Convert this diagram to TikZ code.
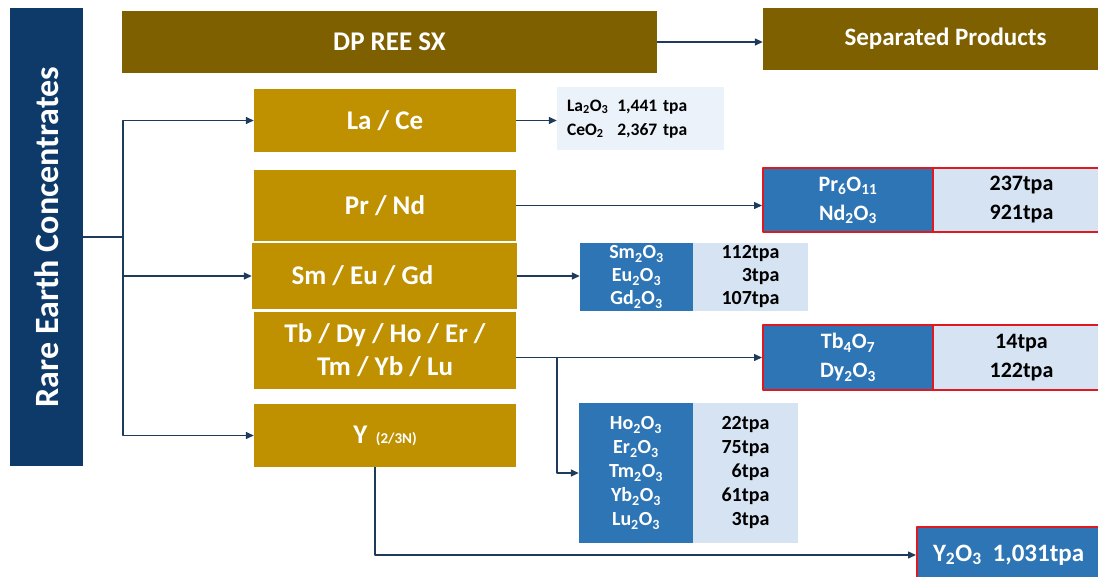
\documentclass[tikz,border=0pt]{standalone}
\usepackage{fontspec}
\setmainfont{Carlito}
\usepackage{graphicx}
\usetikzlibrary{arrows.meta}

\definecolor{barblue}{RGB}{14,58,106}
\definecolor{olive}{RGB}{127,96,0}
\definecolor{gold}{RGB}{191,144,0}
\definecolor{prodblue}{RGB}{46,117,182}
\definecolor{paleblue}{RGB}{214,227,242}
\definecolor{notebg}{RGB}{236,242,249}
\definecolor{redline}{RGB}{224,24,32}
\definecolor{flowline}{RGB}{31,59,92}

\tikzset{
  barbox/.style={fill=barblue, text=white, inner sep=0pt,
    font=\fontsize{34}{40}\selectfont\bfseries},
  olivebox/.style={fill=olive, text=white, inner sep=0pt,
    font=\fontsize{25}{30}\selectfont\bfseries},
  goldbox/.style={fill=gold, text=white, inner sep=0pt, align=center,
    minimum width=262pt, font=\fontsize{27}{33}\selectfont\bfseries},
  oxbox/.style={fill=prodblue, text=white, inner sep=0pt, align=center},
  valbox/.style={fill=paleblue, text=black, inner sep=0pt},
  keybox/.style={draw=redline, line width=2pt},
  link/.style={draw=flowline, line width=1.4pt},
  flow/.style={link, -{Triangle[length=8pt,width=7pt]}}
}

\begin{document}
\begin{tikzpicture}[x=1pt, y=-1pt, line join=round]
  \path[use as bounding box, clip] (0,0) rectangle (1098,576);
  % la barra de la izquierda
  \node[barbox, minimum width=73pt, minimum height=458pt] (bar) at (46.5,237)
    {\rotatebox{90}{Rare Earth Concentrates}};
  % cabeceras
  \node[olivebox, minimum width=535pt, minimum height=62pt,
    font=\fontsize{27}{32}\selectfont\bfseries] (dp) at (389.5,42) {DP REE SX};
  \node[olivebox, minimum width=365pt, minimum height=62pt] (sep) at (945.5,39) {Separated Products};
  % las cajas de los grupos
  \node[goldbox, minimum height=63pt] (lace) at (385,120.5) {La / Ce};
  \node[goldbox, minimum height=71pt] (prnd) at (385,205.5) {Pr / Nd};
  \node[goldbox, minimum width=265pt, minimum height=66pt] (smeugd) at (384.5,276)
    {Sm / Eu / Gd\hspace{44pt}};
  \node[goldbox, minimum height=77pt] (tbbox) at (385,350.5)
    {Tb / Dy / Ho / Er /\\Tm / Yb / Lu};
  \node[goldbox, minimum height=63pt] (yttr) at (385,435.5)
    {Y {\fontsize{15}{18}\selectfont\,(2/3N)}};
  % La / Ce
  \node[fill=notebg, inner xsep=10pt, inner ysep=0pt, text width=147pt,
    minimum height=63pt, align=left, font=\fontsize{17.5}{24}\selectfont\bfseries]
    (lcox) at (640.5,118.5)
    {\begin{tabular}{@{}l@{\hspace{9pt}}l@{}}
       La\textsubscript{2}O\textsubscript{3} & 1,441 tpa\\
       CeO\textsubscript{2} & 2,367 tpa
     \end{tabular}};
  % Pr / Nd
  \node[oxbox, keybox, minimum width=170pt, minimum height=64pt,
    font=\fontsize{22}{29}\selectfont\bfseries] (prox) at (848,200)
    {Pr\textsubscript{6}O\textsubscript{11}\\Nd\textsubscript{2}O\textsubscript{3}};
  \node[valbox, keybox, align=center, minimum width=177pt, minimum height=64pt,
    font=\fontsize{22}{29}\selectfont\bfseries] (prval) at (1021.5,200)
    {237tpa\\921tpa};
  % Sm / Eu / Gd
  \node[oxbox, minimum width=113pt, minimum height=68pt,
    font=\fontsize{20}{23}\selectfont\bfseries] (smox) at (636.5,277)
    {Sm\textsubscript{2}O\textsubscript{3}\\Eu\textsubscript{2}O\textsubscript{3}\\Gd\textsubscript{2}O\textsubscript{3}};
  \node[valbox, align=right, minimum width=115pt, minimum height=68pt,
    font=\fontsize{20}{23}\selectfont\bfseries] (smval) at (750.5,277)
    {112tpa\\3tpa\\107tpa};
  % Tb / Dy
  \node[oxbox, keybox, minimum width=170pt, minimum height=65pt,
    font=\fontsize{22}{29}\selectfont\bfseries] (tbox) at (848,357.5)
    {Tb\textsubscript{4}O\textsubscript{7}\\Dy\textsubscript{2}O\textsubscript{3}};
  \node[valbox, keybox, align=center, minimum width=177pt, minimum height=65pt,
    font=\fontsize{22}{29}\selectfont\bfseries] (tbval) at (1021.5,357.5)
    {14tpa\\122tpa};
  % Ho / Er / Tm / Yb / Lu
  \node[oxbox, minimum width=114pt, minimum height=140pt,
    font=\fontsize{20}{24}\selectfont\bfseries] (hoox) at (636,473)
    {Ho\textsubscript{2}O\textsubscript{3}\\Er\textsubscript{2}O\textsubscript{3}\\Tm\textsubscript{2}O\textsubscript{3}\\Yb\textsubscript{2}O\textsubscript{3}\\Lu\textsubscript{2}O\textsubscript{3}};
  \node[valbox, align=right, minimum width=105pt, minimum height=140pt,
    font=\fontsize{20}{24}\selectfont\bfseries] (hoval) at (745.5,473)
    {22tpa\\75tpa\\6tpa\\61tpa\\3tpa};
  % Y
  \node[oxbox, keybox, inner xsep=16pt, text width=180pt, align=left,
    minimum height=56pt, font=\fontsize{25}{28}\selectfont\bfseries] (yox) at (1023,555)
    {Y\textsubscript{2}O\textsubscript{3}\hspace{11pt}1,031tpa};
  % las flechas
  \coordinate (split) at (123,237);
  \coordinate (tbfork) at (557,357.5);
  \coordinate (ydrop) at (375,467);
  \draw[link] (bar.east) -- (split);
  \draw[flow] (split) |- (lace);
  \draw[flow] (split) |- (smeugd);
  \draw[flow] (split) |- (yttr);
  \draw[flow] (dp.east) -- (dp.east -| sep.west);
  \draw[flow] (lace.east) -- (lace.east -| lcox.west);
  \draw[flow] (prnd.east) -- (prnd.east -| prox.west);
  \draw[flow] (smeugd.east) -- (smeugd.east -| smox.west);
  \draw[flow] (tbbox.east |- tbox) -- (tbox);
  \draw[flow] (tbfork) |- (hoox);
  \draw[flow] (ydrop) |- (yox);
\end{tikzpicture}
\end{document}
